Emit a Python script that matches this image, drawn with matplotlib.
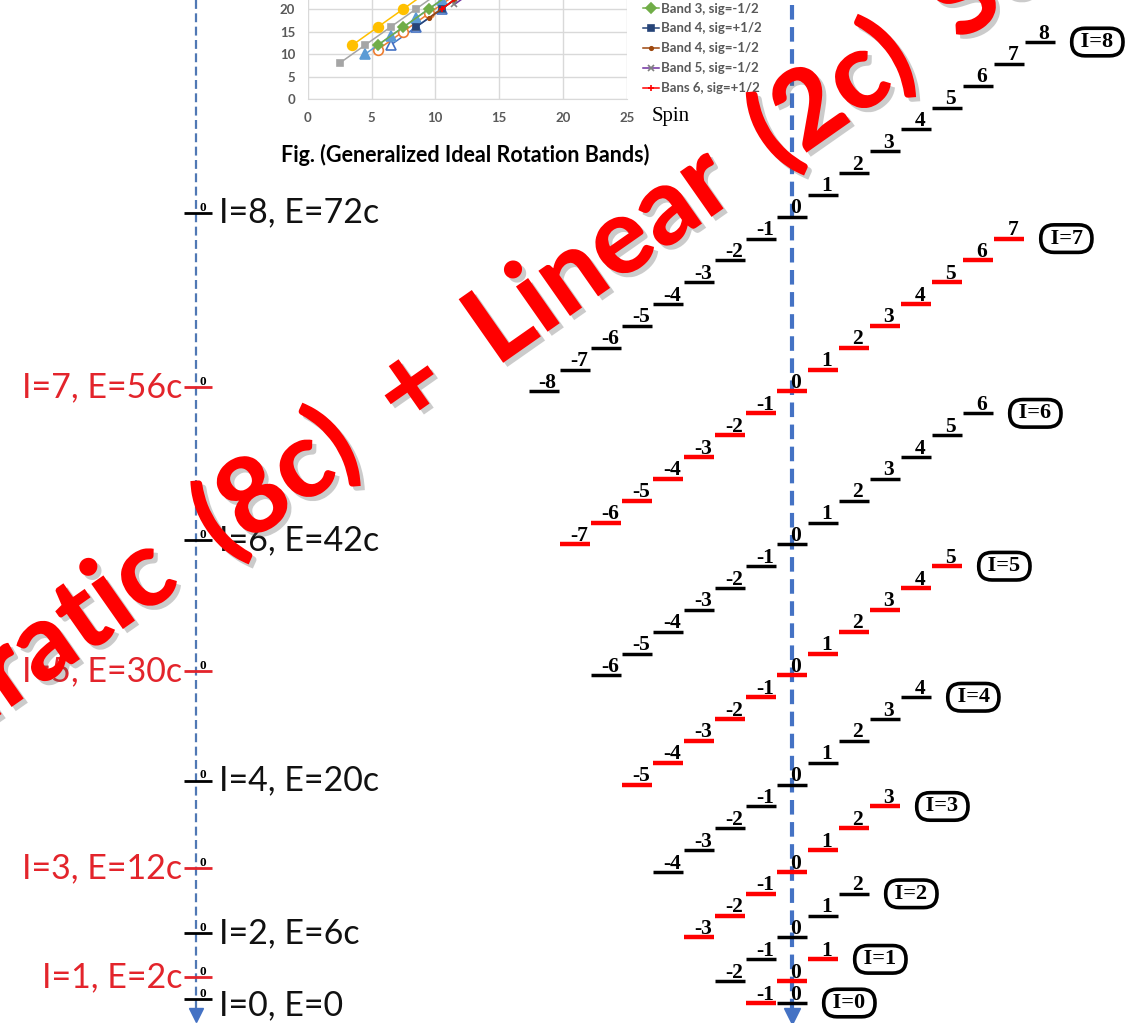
import numpy as np
import matplotlib.pyplot as plt
from matplotlib import patheffects as pe

# ---------------- data ----------------
spins = [0, 1, 2, 3, 4, 5, 6, 7, 8]
energies = [0, 2, 6, 12, 20, 30, 42, 56, 72]   # quadratic part, in units of c
lin_step = 2                                    # linear part: 2c per K

# inset chart "Generalized Ideal Rotation Bands" (only the lower part is visible)
band_spin = [
    [6.5, 8.5, 10.5, 12.5],
    [5.5, 7.5, 9.5, 11.5],
    [2.5, 4.5, 6.5, 8.5, 10.5],
    [3.5, 5.5, 7.5, 9.5],
    [4.5, 6.5, 8.5, 10.5, 12.5],
    [5.5, 7.5, 9.5, 11.5],
    [8.5, 10.5, 12.5],
    [9.5, 11.5, 13.5],
    [11.5, 13.5],
    [10.5, 12.5],
]
band_energy = [
    [12, 16, 20, 24],
    [11, 15, 19, 23],
    [8, 12, 16, 20, 24],
    [12, 16, 20, 24],
    [10, 14, 18, 22, 26],
    [12, 16, 20, 24],
    [16, 20, 24],
    [18, 22, 26],
    [21, 25],
    [20, 24],
]
band_labels = [None, None, None, None, None,
               "Band 3, sig=-1/2", "Band 4, sig=+1/2", "Band 4, sig=-1/2",
               "Band 5, sig=-1/2", "Bans 6, sig=+1/2"]
band_colors = ["#4472C4", "#ED7D31", "#A5A5A5", "#FFC000", "#5B9BD5",
               "#70AD47", "#264478", "#9E480E", "#7030A0", "#FF0000"]
band_markers = ["^", "o", "s", "o", "^", "D", "s", ".", "x", "+"]
band_open = [True, True, False, False, False, False, False, False, False, False]

# watermark words and where their centres sit along the slanted baseline (px)
wm_words = ["Quadratic", "(8c)", "+", "Linear", "(2c)", "Scale"]
wm_pos = [None, 0, 166, 396, 678, None]

RED = "#ff0000"
LRED = "#e3242b"
BLUE = "#4472C4"
serif = "Liberation Serif"
W, H = 1127, 1023

fig = plt.figure(figsize=(11.27, 10.23), dpi=100)

# ---------------- right: staircase of K levels ----------------
ax = fig.add_axes([0, 0, 1, 1])
ax.set_xlim(-792 / 31, (W - 792) / 31)
ax.set_ylim(-1.83, 91.85)
ax.axis("off")

for I, E in zip(spins, energies):
    col = RED if I % 2 else "black"
    lw = 3.2 if I % 2 else 2.5
    Ks = np.arange(-I, I + 1)
    ys = E + lin_step * Ks
    ax.hlines(ys, Ks - 0.5, Ks + 0.47, colors=col, lw=lw, zorder=2)
    for K, y in zip(Ks, ys):
        ax.annotate(str(K), (K + 0.12, y), xytext=(0, 2.5), textcoords="offset points",
                    ha="center", va="baseline", fontsize=15.5, fontweight="bold",
                    family=serif, zorder=3)
    ax.text(I + 1.85, E + lin_step * I, f" I={I} ", ha="center", va="center",
            fontsize=16, fontweight="bold", family=serif,
            bbox=dict(boxstyle="round,pad=0.17,rounding_size=0.6", fc="white",
                      ec="black", lw=2.6))

ax.plot([0, 0], [91.4, -1.0], ls=(0, (3.5, 1.8)), color=BLUE, lw=3, zorder=1)
ax.plot([0], [-1.15], marker="v", ms=11, color=BLUE, zorder=1)

# ---------------- left: K=0 levels on the energy axis ----------------
axl = fig.add_axes([0, 0, 1, 1], facecolor="none")
axl.set_xlim(0, W)
axl.set_ylim(-2.2, 91.48)
axl.axis("off")

axl.plot([196, 196], [91.48, -1.3], ls=(0, (4, 2)), color="#5078B4", lw=1.6)
axl.plot([196], [-1.45], marker="v", ms=10, color=BLUE)
for I, E in zip(spins, energies):
    col = LRED if I % 2 else "black"
    axl.hlines(E, 184, 212, colors=col, lw=2)
    axl.annotate("0", (203, E), xytext=(0, 1.5), textcoords="offset points",
                 ha="center", va="baseline", fontsize=9.5, fontweight="bold", family=serif)
    lab = f"I={I}, E={E}c" if E else f"I={I}, E=0"
    dy = -0.6 if E == 0 else 0
    if I % 2:
        axl.text(182, E + dy, lab, ha="right", va="center", fontsize=24.5, color=LRED,
                 family="Lato")
    else:
        axl.text(219, E + dy, lab, ha="left", va="center", fontsize=24.5, color="#111111",
                 family="Lato")

# ---------------- inset chart ----------------
axi = fig.add_axes([307.7 / W, 1 - 99.3 / H, 319 / W, 99.3 / H])
handles = []
for xs, ys, lab, c, m, op in zip(band_spin, band_energy, band_labels, band_colors,
                                 band_markers, band_open):
    mec = "#808080" if m == "x" else c
    h, = axi.plot(xs, ys, color=c, lw=1.1, marker=m, ms=7 if m in "o^" else 5,
                  mfc="white" if op else c, mec=mec, mew=1.2, label=lab)
    if lab:
        handles.append(h)
axi.set_xlim(0, 25)
axi.set_ylim(0, 21.97)
axi.set_xticks(range(0, 26, 5))
axi.set_yticks(range(0, 21, 5))
axi.grid(True, color="#D9D9D9", lw=1)
for s in ["top", "right", "left"]:
    axi.spines[s].set_visible(False)
axi.spines["bottom"].set_color("#D9D9D9")
axi.tick_params(length=0, colors="#595959", labelsize=9.5, pad=9)
for t in axi.get_xticklabels() + axi.get_yticklabels():
    t.set_family("Lato")
    t.set_fontweight("bold")

fig.legend(handles=handles, loc="upper left", bbox_to_anchor=(643 / W, 0.9975),
           frameon=False, labelcolor="#595959", handlelength=1.25,
           handletextpad=0.15, labelspacing=0.6, borderpad=0, borderaxespad=0,
           prop=dict(family="Lato", weight="bold", size=9.5))

fig.text(652 / W, 1 - 117 / H, "Spin", ha="left", va="center", fontsize=15, family=serif)
fig.text(465 / W, 1 - 155 / H, "Fig. (Generalized Ideal Rotation Bands)", ha="center",
         va="center", fontsize=15.5, fontweight="bold", family="Lato")

# ---------------- watermark, word by word along a 35 deg line ----------------
wm_kw = dict(fontsize=77, fontweight="black", family="Lato")
rend = fig.canvas.get_renderer()
widths = []
for w in wm_words:
    t = fig.text(0, 0, w, **wm_kw)
    widths.append(t.get_window_extent(rend).width)
    t.remove()
gap = wm_pos[2] - widths[1] / 2 - widths[2] / 2
wm_pos[0] = wm_pos[1] - widths[1] / 2 - gap - widths[0] / 2
wm_pos[5] = wm_pos[4] + widths[4] / 2 + gap + widths[5] / 2

ang = np.deg2rad(35)
x0, y0 = 276, H - 484          # centre of "(8c)" in display pixels
for w, s in zip(wm_words, wm_pos):
    xd = x0 + s * np.cos(ang)
    yd = y0 + s * np.sin(ang)
    fig.text(xd / W, yd / H, w, rotation=35, rotation_mode="anchor", ha="center",
             va="center", color=RED, zorder=10, **wm_kw,
             path_effects=[pe.SimplePatchShadow(offset=(3, -3), shadow_rgbFace="#555555",
                                                alpha=0.3),
                           pe.Normal()])

fig.savefig("out.png", dpi=100)
